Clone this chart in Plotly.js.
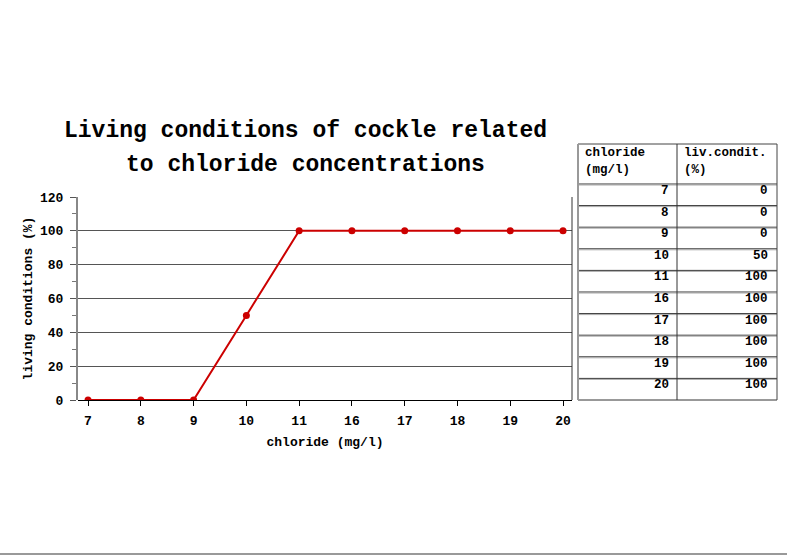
<!DOCTYPE html>
<html>
<head>
<meta charset="utf-8">
<script src="https://cdn.plot.ly/plotly-3.0.1.min.js"></script>
<style>
  html, body { margin: 0; padding: 0; background: #fff; }
  #chart { width: 787px; height: 558px; }
</style>
</head>
<body>
<div id="chart"></div>
<script>
// Chloride concentration (mg/l) and matching living conditions of cockle (%)
const chloride = ['7', '8', '9', '10', '11', '16', '17', '18', '19', '20'];
const livingConditions = [0, 0, 0, 50, 100, 100, 100, 100, 100, 100];
const yTicks = [0, 20, 40, 60, 80, 100, 120];
const titleLines = ['Living conditions of cockle related', 'to chloride concentrations'];
const tableHeader = [['chloride', '(mg/l)'], ['liv.condit.', '(%)']];

const W = 787, H = 558;
const mono = 'Liberation Mono, Courier New, monospace';
const bold = s => '<b>' + s + '</b>';
// pixel -> paper helpers (margins are zero, so paper spans the whole page)
const px = x => x / W;
const py = y => 1 - y / H;

const lineTrace = {
  type: 'scatter',
  mode: 'lines+markers',
  x: chloride,
  y: livingConditions,
  line: { color: '#cc0000', width: 2 },
  marker: { color: '#cc0000', size: 7 },
  hoverinfo: 'x+y',
  showlegend: false
};

const annotations = [];
const shapes = [];

// two-line title
titleLines.forEach((t, i) => {
  annotations.push({
    xref: 'paper', yref: 'paper',
    x: px(305), y: py(131 + i * 34),
    xanchor: 'center', yanchor: 'middle',
    text: bold(t), showarrow: false,
    font: { family: mono, size: 23, color: '#000' }
  });
});

// data table drawn beside the plot
const tLeft = 578, tMid = 677, tRight = 777, tTop = 144, headH = 40, rowH = 21.6;
const tBottom = tTop + headH + rowH * chloride.length;
const colLeft = [tLeft, tMid], colRight = [tMid, tRight];

tableHeader.forEach((lines, c) => {
  lines.forEach((t, k) => {
    annotations.push({
      xref: 'paper', yref: 'paper',
      x: px(colLeft[c] + 5), y: py(153 + k * 17),
      xanchor: 'left', yanchor: 'middle',
      text: bold(t), showarrow: false,
      font: { family: mono, size: 12.5, color: '#000' }
    });
  });
});

[chloride, livingConditions.map(String)].forEach((col, c) => {
  col.forEach((v, r) => {
    annotations.push({
      xref: 'paper', yref: 'paper',
      x: px(colRight[c] - (c === 0 ? 6 : 7)), y: py(tTop + headH + r * rowH + 7),
      xanchor: 'right', yanchor: 'middle',
      text: bold(v), showarrow: false,
      font: { family: mono, size: 12.5, color: '#000' }
    });
  });
});

const hLine = (x0, x1, y, color, w) => shapes.push({
  type: 'line', xref: 'paper', yref: 'paper',
  x0: px(x0), x1: px(x1), y0: py(y), y1: py(y),
  line: { color: color, width: w }
});
const vLine = (x, y0, y1, color, w) => shapes.push({
  type: 'line', xref: 'paper', yref: 'paper',
  x0: px(x), x1: px(x), y0: py(y0), y1: py(y1),
  line: { color: color, width: w }
});

hLine(tLeft, tRight, tTop, '#444', 1);
for (let r = 0; r <= chloride.length; r++) {
  const y = tTop + headH + r * rowH;
  hLine(tLeft, tRight, y, '#333', 1);
  if (r < chloride.length) hLine(tLeft, tRight, y + 1, '#aaa', 1);
}
vLine(tLeft, tTop, tBottom, '#999', 2);
vLine(tMid, tTop, tBottom, '#333', 1);
vLine(tRight, tTop, tBottom, '#444', 1);

// right frame of the plot area
shapes.push({
  type: 'line', xref: 'x domain', yref: 'y domain',
  x0: 1, x1: 1, y0: 0, y1: 1,
  line: { color: '#333', width: 1 }
});

// page separator at the bottom
hLine(0, W, 554, '#999', 2);

const layout = {
  width: W,
  height: H,
  margin: { l: 0, r: 0, t: 0, b: 0 },
  paper_bgcolor: '#fff',
  plot_bgcolor: '#fff',
  font: { family: mono, color: '#000', size: 13 },
  showlegend: false,
  xaxis: {
    domain: [px(78), px(572)],
    anchor: 'y',
    type: 'category',
    categoryorder: 'array',
    categoryarray: chloride,
    range: [-0.19, 9.17],
    showgrid: false,
    zeroline: false,
    showline: false,
    ticks: 'outside',
    ticklen: 5,
    tickcolor: '#000',
    ticklabelstandoff: 3,
    tickfont: { family: mono, size: 13, weight: 'bold' },
    title: { text: bold('chloride (mg/l)'), font: { family: mono, size: 13 }, standoff: 9 },
    fixedrange: true
  },
  yaxis: {
    domain: [py(400), py(197)],
    anchor: 'x',
    range: [0, 120],
    tickvals: yTicks,
    showgrid: true,
    gridcolor: '#555',
    gridwidth: 1,
    zeroline: true,
    zerolinecolor: '#000',
    zerolinewidth: 1,
    showline: true,
    linecolor: '#888',
    linewidth: 2,
    ticks: 'outside',
    ticklen: 6,
    tickcolor: '#555',
    ticklabelstandoff: 4,
    minor: { dtick: 10, ticks: 'outside', ticklen: 4, tickcolor: '#777', showgrid: false },
    tickfont: { family: mono, size: 13, weight: 'bold' },
    title: { text: bold('living conditions (%)'), font: { family: mono, size: 13 }, standoff: 4 },
    fixedrange: true
  },
  annotations: annotations,
  shapes: shapes
};

Plotly.newPlot('chart', [lineTrace], layout, { displayModeBar: false, staticPlot: true });
</script>
</body>
</html>
